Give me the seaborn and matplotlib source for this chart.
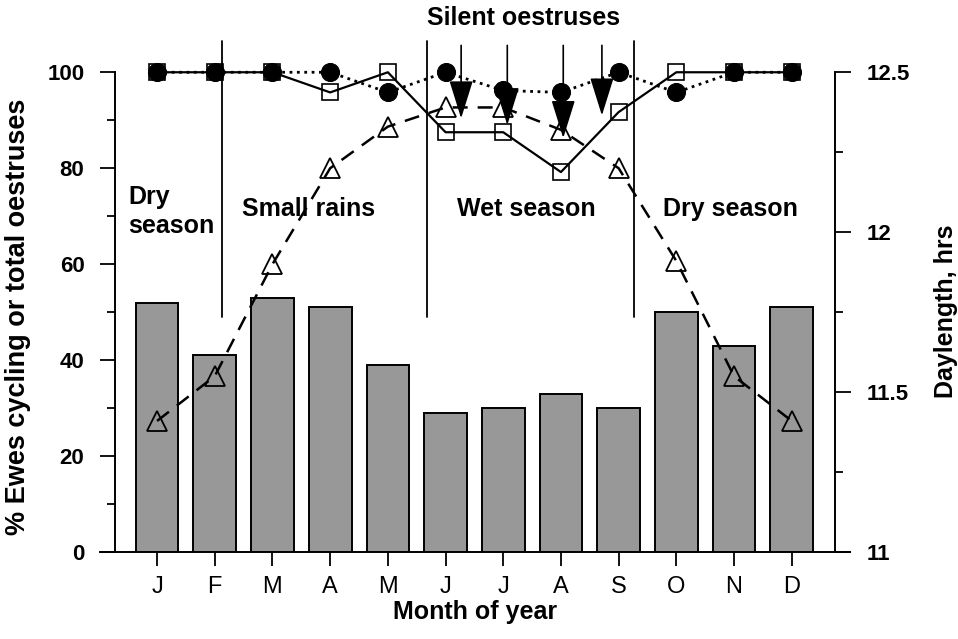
"""
Ewe cycling / oestrus activity by month, with daylength on a second axis.
"""
import matplotlib
matplotlib.use('Agg')
import matplotlib.pyplot as plt
import seaborn as sns
import numpy as np
import pandas as pd

# Data
months = ['J', 'F', 'M', 'A', 'M', 'J', 'J', 'A', 'S', 'O', 'N', 'D']
pct_cycling = [52, 41, 53, 51, 39, 29, 30, 33, 30, 50, 43, 51]
pct_oestrus_circles = [100, 100, 100, 100, 95.8, 100, 96.2, 95.8, 100, 95.8, 100, 100]
pct_oestrus_squares = [100, 100, 100, 95.8, 100, 87.5, 87.5, 79.2, 91.7, 100, 100, 100]
daylength_hrs = [11.41, 11.55, 11.9, 12.2, 12.33, 12.39, 12.39, 12.32, 12.2, 11.91, 11.55, 11.41]

# season boundaries (month-index positions) and season labels
season_breaks = [1.13, 4.68, 8.27]
season_labels = ['Dry\nseason', 'Small rains', 'Wet season', 'Dry season']
season_label_x = [-0.5, 2.63, 6.4, 9.93]

# silent oestruses arrows (month-index position, tip value on left axis)
silent_x = [5.27, 6.07, 7.04, 7.71]
silent_tip = [90.4, 89.0, 86.3, 91.0]

sns.set_style('ticks')
plt.rcParams['font.family'] = ['Liberation Sans', 'DejaVu Sans']
plt.rcParams['text.color'] = 'black'
plt.rcParams['axes.labelcolor'] = 'black'
plt.rcParams['xtick.color'] = 'black'
plt.rcParams['ytick.color'] = 'black'
plt.rcParams['axes.edgecolor'] = 'black'

df = pd.DataFrame({
    'pos': np.arange(len(months)),
    'cycling': pct_cycling,
    'circles': pct_oestrus_circles,
    'squares': pct_oestrus_squares,
    'daylength': daylength_hrs,
})

fig = plt.figure(figsize=(9.58, 6.39), dpi=100)
ax = fig.add_axes([0.120, 0.136, 0.7516, 0.801])

# Bars
sns.barplot(data=df, x='pos', y='cycling', color='#989898', saturation=1,
            edgecolor='black', linewidth=1.4, width=0.74, ax=ax, zorder=1)

# Season divider lines
for xb in season_breaks:
    ax.plot([xb, xb], [49, 106.6], color='black', lw=1.3, zorder=2)

# Oestrus lines
sns.lineplot(data=df, x='pos', y='circles', ax=ax, color='black', lw=2,
             linestyle=':', marker='o', markersize=13, markerfacecolor='black',
             markeredgecolor='black', sort=False, zorder=4)
sns.lineplot(data=df, x='pos', y='squares', ax=ax, color='black', lw=1.6,
             linestyle='-', marker='s', markersize=12, markerfacecolor='none',
             markeredgecolor='black', markeredgewidth=1.2, sort=False, zorder=5)

# Silent oestruses arrows
for xa, yt in zip(silent_x, silent_tip):
    ax.annotate('', xy=(xa, yt), xytext=(xa, 105.6),
                arrowprops=dict(arrowstyle='-|>,head_length=2.4,head_width=0.75',
                                color='black', lw=1.2, shrinkA=0, shrinkB=0,
                                mutation_scale=10),
                zorder=6)

ax.set_xlim(-0.73, 11.75)
ax.set_ylim(0, 106.67)
ax.set_yticks([0, 20, 40, 60, 80, 100])
ax.set_yticklabels(['0', '20', '40', '60', '80', '100'], fontsize=16, fontweight='bold')
ax.set_yticks([10, 30, 50, 70, 90], minor=True)
ax.set_xticks(df['pos'])
ax.set_xticklabels(months, fontsize=17)
ax.tick_params(axis='y', which='major', direction='out', length=11, width=1.3, pad=11)
ax.tick_params(axis='y', which='minor', direction='out', length=6, width=1.3)
ax.tick_params(axis='x', direction='out', length=10, width=1.3, pad=7)
ax.set_xlabel('Month of year', fontsize=18, fontweight='bold', labelpad=2)
ax.set_ylabel('% Ewes cycling or total oestruses', fontsize=19.5, fontweight='bold')
ax.yaxis.set_label_coords(-0.116, 0.46)

for s in ['top', 'right']:
    ax.spines[s].set_visible(False)
ax.spines['left'].set_bounds(0, 100)
ax.spines['bottom'].set_bounds(-0.99, 12.01)
for s in ['left', 'bottom']:
    ax.spines[s].set_linewidth(1.4)

# Season labels
for xl, lab in zip(season_label_x, season_labels):
    ha = 'left' if '\n' in lab else 'center'
    ax.text(xl, 71.0 if '\n' in lab else 71.5, lab, ha=ha, va='center',
            fontsize=18, fontweight='bold', linespacing=1.25, zorder=7)

ax.text(6.36, 111.3, 'Silent oestruses', ha='center', va='center',
        fontsize=18, fontweight='bold', clip_on=False)

# Daylength on the right axis
ax2 = ax.twinx()
sns.lineplot(data=df, x='pos', y='daylength', ax=ax2, color='black', lw=1.8,
             marker='^', markersize=15, markerfacecolor='none',
             markeredgecolor='black', markeredgewidth=1.3, sort=False)
ax2.lines[-1].set_dashes((6, 4))
ax2.set_ylim(11, 11 + 106.67 * 0.015)
ax2.set_yticks([11, 11.5, 12, 12.5])
ax2.set_yticklabels(['11', '11.5', '12', '12.5'], fontsize=16, fontweight='bold')
ax2.set_yticks([11.25, 11.75, 12.25], minor=True)
ax2.tick_params(axis='y', which='major', direction='out', length=11.5, width=1.3, pad=11)
ax2.tick_params(axis='y', which='minor', direction='out', length=6, width=1.3)
ax2.set_ylabel('Daylength, hrs', fontsize=18, fontweight='bold')
ax2.yaxis.set_label_coords(1.137, 0.47)
for s in ['top', 'left', 'bottom']:
    ax2.spines[s].set_visible(False)
ax2.spines['right'].set_bounds(11, 12.5)
ax2.spines['right'].set_linewidth(1.4)
ax2.set_xlim(-0.73, 11.75)

fig.savefig('out.png', dpi=100)
